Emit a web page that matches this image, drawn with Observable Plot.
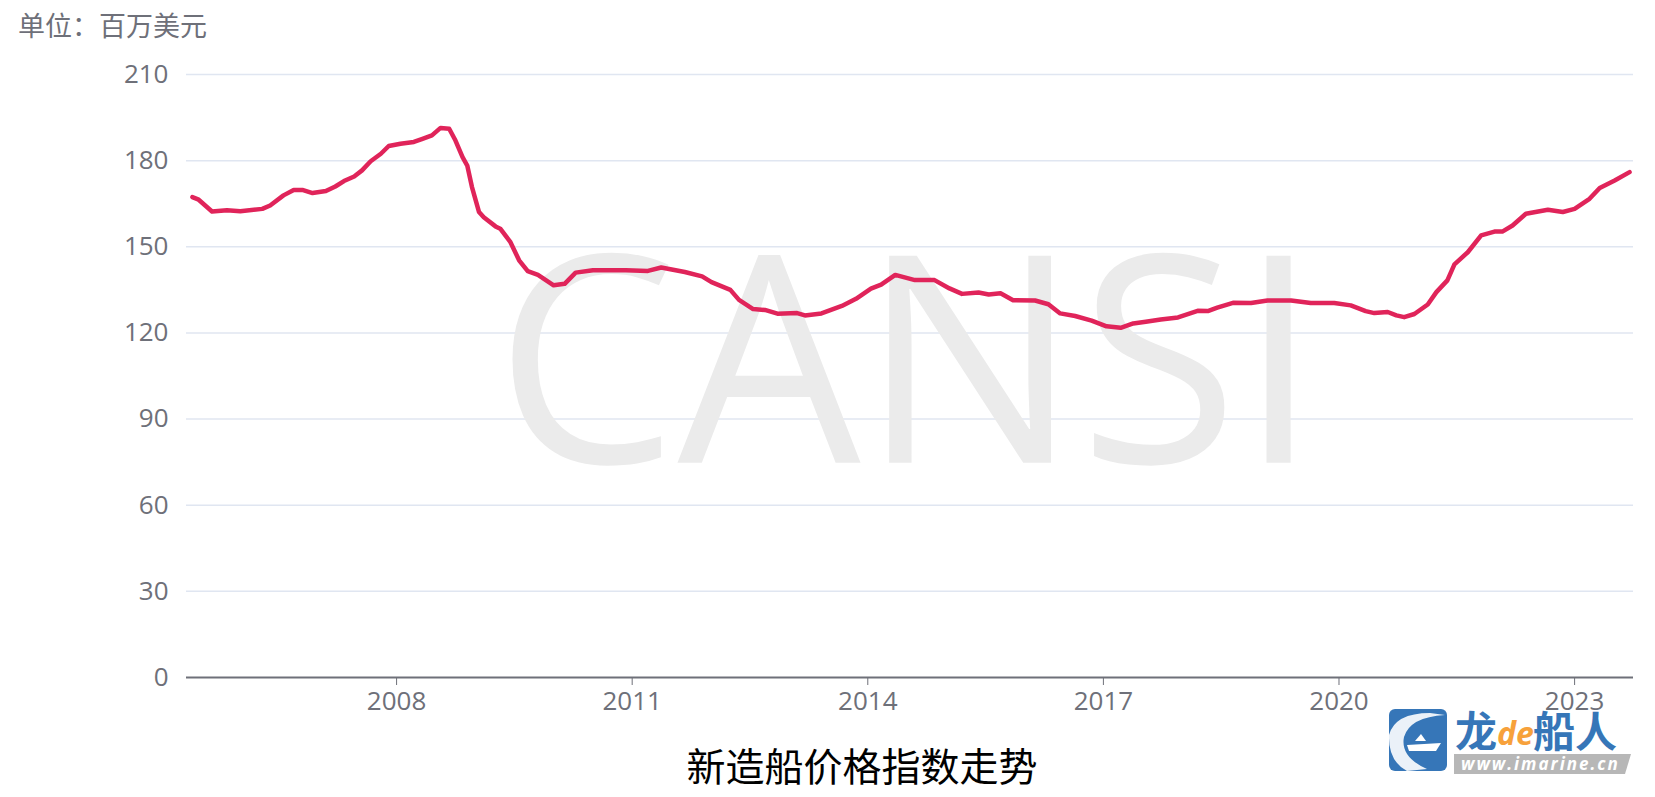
<!DOCTYPE html>
<html><head><meta charset="utf-8">
<script src="https://cdn.jsdelivr.net/npm/d3@7"></script>
<script src="https://cdn.jsdelivr.net/npm/@observablehq/plot@0.6"></script>
<style>
body{margin:0;background:#fff;width:1655px;height:797px;overflow:hidden;position:relative;font-family:"Open Sans","Noto Sans CJK SC",sans-serif}
#unit{position:absolute;left:18px;top:6px;font-size:27px;line-height:38px;color:#6e7079;font-family:"Noto Sans CJK SC",sans-serif;white-space:nowrap}
#chart{position:absolute;left:0;top:50px}
#title{position:absolute;left:0;top:737px;width:1724px;text-align:center;font-size:39px;line-height:54px;color:#000;font-family:"Noto Sans CJK SC",sans-serif}
#logo{position:absolute;left:1385px;top:703px;width:252px;height:80px}
#logo svg{overflow:visible}
</style>
</head><body>
<div id="unit">单位：百万美元</div>
<div id="chart"></div>
<div id="title">新造船价格指数走势</div>
<div id="logo">
<svg width="252" height="80" viewBox="0 0 252 80">
  <rect x="4" y="6" width="58" height="62" rx="6" fill="#3676b8"/>
  <path d="M4 32 Q10 10 45 10 L60 12 Q25 14 19 34 Q15 54 42 66 L22 68 Q3 58 4 32Z" fill="#fff" opacity="0.9"/>
  <path d="M22 42 L56 40 L51 48 L24 48Z" fill="#fff"/>
  <path d="M30 38 L36 31 L41 38Z" fill="#fff"/>
  <text x="70" y="44" font-size="42" font-weight="bold" fill="#3676b8" font-family="Noto Sans CJK SC">龙</text>
  <text x="112" y="42" font-size="32" font-style="italic" font-weight="bold" fill="#f7a13b" font-family="Open Sans">de</text>
  <text x="148" y="44" font-size="42" font-weight="bold" fill="#3676b8" font-family="Noto Sans CJK SC">船人</text>
  <path d="M69 51 L246 51 L240 71 L69 71Z" fill="#b7b7b7"/>
  <text x="76" y="67" font-size="17" font-style="italic" font-weight="bold" fill="#fff" font-family="Open Sans" letter-spacing="2">www.imarine.cn</text>
</svg>
</div>
<script>
const years = [
  2005.40, 2005.48, 2005.65, 2005.84, 2006.01, 2006.29, 2006.39, 2006.56, 2006.69, 2006.80,
  2006.93, 2007.10, 2007.22, 2007.33, 2007.46, 2007.56, 2007.67, 2007.80, 2007.90, 2008.05,
  2008.22, 2008.33, 2008.45, 2008.56, 2008.67, 2008.75, 2008.84, 2008.90, 2008.96, 2009.05,
  2009.11, 2009.26, 2009.32, 2009.45, 2009.56, 2009.67, 2009.80, 2010.00, 2010.14, 2010.28,
  2010.50, 2010.92, 2011.20, 2011.37, 2011.67, 2011.89, 2012.01, 2012.25, 2012.36, 2012.54,
  2012.69, 2012.85, 2013.10, 2013.20, 2013.41, 2013.67, 2013.85, 2014.04, 2014.17, 2014.35,
  2014.60, 2014.85, 2015.04, 2015.20, 2015.41, 2015.54, 2015.69, 2015.85, 2016.13, 2016.30,
  2016.45, 2016.64, 2016.85, 2017.04, 2017.22, 2017.38, 2017.54, 2017.73, 2017.95, 2018.20,
  2018.33, 2018.45, 2018.65, 2018.88, 2019.09, 2019.39, 2019.64, 2019.94, 2020.15, 2020.34,
  2020.45, 2020.62, 2020.73, 2020.83, 2020.96, 2021.13, 2021.24, 2021.38, 2021.47, 2021.64,
  2021.81, 2021.98, 2022.08, 2022.21, 2022.38, 2022.66, 2022.85, 2023.00, 2023.19, 2023.32,
  2023.51, 2023.70
];
const values = [
  167.3, 166.4, 162.3, 162.7, 162.4, 163.2, 164.4, 167.9, 169.8, 169.8,
  168.7, 169.4, 171.0, 172.9, 174.5, 176.6, 179.8, 182.4, 185.1, 185.9,
  186.5, 187.6, 188.8, 191.4, 191.1, 187.0, 181.2, 178.3, 170.8, 162.1,
  160.3, 157.1, 156.3, 151.6, 145.3, 141.5, 140.2, 136.6, 137.1, 141.0,
  141.8, 141.8, 141.6, 142.8, 141.2, 139.7, 137.7, 135.0, 131.5, 128.3,
  128.0, 126.7, 126.9, 126.1, 126.8, 129.4, 131.9, 135.4, 136.8, 140.2,
  138.4, 138.4, 135.5, 133.6, 134.1, 133.4, 133.8, 131.4, 131.3, 130.0,
  126.8, 125.9, 124.3, 122.3, 121.8, 123.3, 123.9, 124.7, 125.4, 127.7,
  127.6, 128.8, 130.5, 130.4, 131.3, 131.3, 130.4, 130.4, 129.6, 127.6,
  126.9, 127.3, 126.1, 125.5, 126.6, 129.9, 134.2, 138.3, 143.9, 148.1,
  154.0, 155.3, 155.3, 157.4, 161.5, 162.9, 162.1, 163.2, 166.7, 170.5,
  173.1, 176.0
];
const xTicks = [2008, 2011, 2014, 2017, 2020, 2023];
const yTicks = [0, 30, 60, 90, 120, 150, 180, 210];

const data = years.map((y, i) => ({year: y, value: values[i]}));

const chart = Plot.plot({
  width: 1655,
  height: 677,
  marginLeft: 186,
  marginRight: 22,
  marginTop: 24,
  marginBottom: 50,
  x: {type: "linear", domain: [2005.325, 2023.75]},
  y: {domain: [0, 210]},
  style: {fontFamily: "'Open Sans', sans-serif", fontSize: "26px", color: "#6e7079", background: "transparent", overflow: "visible"},
  marks: [
    Plot.ruleY(yTicks.filter(d => d > 0), {stroke: "#e0e6f1", strokeWidth: 1.5}),
    Plot.text(["CANSI"], {frameAnchor: "middle", text: d => d, fontSize: 290, fontWeight: 400, fill: "#ebebeb", fontFamily: "'Open Sans', sans-serif", dx: -3, dy: -6}),
    Plot.axisY({ticks: yTicks, tickSize: 0, tickPadding: 18, label: null, fontSize: 26}),
    Plot.axisX({ticks: xTicks, tickFormat: d => String(d), tickSize: 8, tickPadding: 6, label: null, fontSize: 26, stroke: "#6e7079"}),
    Plot.ruleY([0], {stroke: "#6e7079", strokeWidth: 2}),
    Plot.line(data, {x: "year", y: "value", stroke: "#e0245a", strokeWidth: 4.5, strokeLinejoin: "round", strokeLinecap: "round"})
  ]
});
document.getElementById("chart").appendChild(chart);
</script>
</body></html>
